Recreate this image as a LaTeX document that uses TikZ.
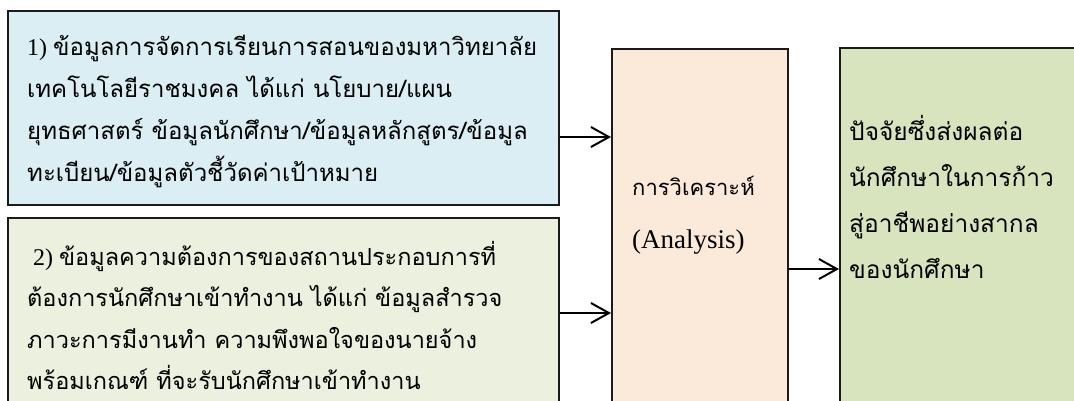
\documentclass[tikz,border=0pt]{standalone}
\usepackage{fontspec}
\setmainfont{Liberation Serif}
\newfontfamily\thai[Script=Thai]{Loma}
\usetikzlibrary{arrows.meta}
\definecolor{fillA}{HTML}{DAEEF3}
\definecolor{fillB}{HTML}{EBF0DF}
\definecolor{fillC}{HTML}{FBE9DA}
\definecolor{fillD}{HTML}{D8E4BE}
\definecolor{edge}{HTML}{1A1A1A}
\newcommand{\thx}[1]{{\thai #1}}
\begin{document}
\begin{tikzpicture}[x=1bp,y=-1bp,
  box/.style={draw=edge, line width=1.6bp, inner sep=0pt, anchor=north west},
  txt/.style={anchor=base west, inner sep=0pt},
  conn/.style={line width=2bp, draw=black, -{Straight Barb[length=18bp,width=20bp,line width=2bp]}}]
\useasboundingbox (0,0) rectangle (1074,400);
\clip (0,0) rectangle (1074,400);
\node[box, fill=fillA, minimum width=551bp, minimum height=194bp] (b1) at (7,10) {};
\node[box, fill=fillB, minimum width=551bp, minimum height=210bp] (b2) at (7,217) {};
\node[box, fill=fillC, minimum width=176bp, minimum height=380bp] (an) at (611,48) {};
\node[box, fill=fillD, minimum width=260bp, minimum height=380bp] (res) at (839,47) {};
\node[txt] (t1) at (27,55) {\parbox[t]{600bp}{\fontsize{24bp}{42bp}\selectfont
  {\fontsize{24bp}{42bp}\selectfont 1)} \thx{ข้อมูลการจัดการเรียนการสอนของมหาวิทยาลัย}\\
  \thx{เทคโนโลยีราชมงคล ได้แก่ นโยบาย/แผน}\\
  \thx{ยุทธศาสตร์ ข้อมูลนักศึกษา/ข้อมูลหลักสูตร/ข้อมูล}\\
  \thx{ทะเบียน/ข้อมูลตัวชี้วัดค่าเป้าหมาย}}};
\node[txt] (t2) at (27,265) {\parbox[t]{600bp}{\fontsize{23.5bp}{41.5bp}\selectfont
  \hspace*{6bp}{\fontsize{24bp}{42bp}\selectfont 2)} \thx{ข้อมูลความต้องการของสถานประกอบการที่}\\
  \thx{ต้องการนักศึกษาเข้าทำงาน ได้แก่ ข้อมูลสำรวจ}\\
  \thx{ภาวะการมีงานทำ ความพึงพอใจของนายจ้าง}\\
  \thx{พร้อมเกณฑ์ ที่จะรับนักศึกษาเข้าทำงาน}}};
\node[txt] (t3) at (632,195) {\parbox[t]{150bp}{\fontsize{27bp}{53bp}\selectfont
  \thx{\fontsize{22bp}{53bp}\selectfont การวิเคราะห์}\\
  (Analysis)}};
\node[txt] (t4) at (849,140) {\parbox[t]{220bp}{\fontsize{24.5bp}{46bp}\selectfont\thai
  ปัจจัยซึ่งส่งผลต่อ\\
  นักศึกษาในการก้าว\\
  สู่อาชีพอย่างสากล\\
  ของนักศึกษา}};
\draw[conn] (b1.east |- 0,137) -- (an.west |- 0,137);
\draw[conn] (b2.east |- 0,313) -- (an.west |- 0,313);
\draw[conn] (an.east |- 0,269) -- (res.west |- 0,269);
\end{tikzpicture}
\end{document}
